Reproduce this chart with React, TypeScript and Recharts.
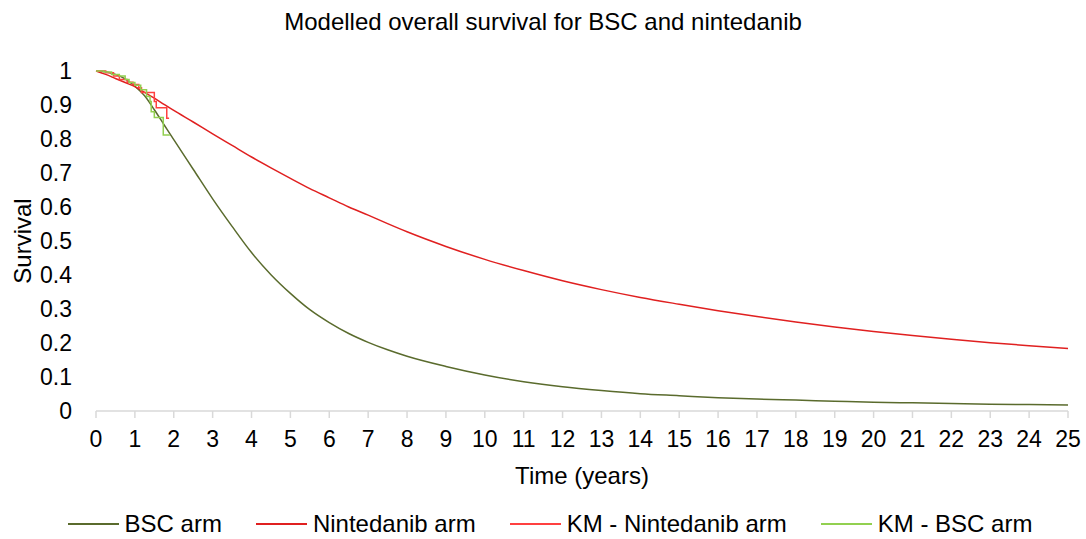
import { Label, Line, LineChart, XAxis, YAxis } from "recharts";

const FONT = "'Liberation Sans', Arial, sans-serif";

// modelled curves (years)
const modelYears = [0, 0.25, 0.5, 0.75, 1, 1.25, 1.5, 1.75, 2, 2.5, 3, 3.5, 4, 4.5, 5, 5.5, 6, 6.5, 7, 7.5, 8, 9, 10, 11, 12, 13, 14, 15, 16, 17, 18, 19, 20, 21, 22, 23, 24, 25];
const bscArm = [1, 0.998, 0.99, 0.977, 0.955, 0.927, 0.886, 0.842, 0.798, 0.711, 0.624, 0.543, 0.466, 0.401, 0.346, 0.298, 0.26, 0.228, 0.202, 0.18, 0.161, 0.131, 0.106, 0.086, 0.071, 0.06, 0.051, 0.045, 0.039, 0.035, 0.032, 0.029, 0.026, 0.024, 0.022, 0.02, 0.019, 0.018];
const nintedanibArm = [1, 0.99, 0.978, 0.966, 0.954, 0.937, 0.92, 0.902, 0.884, 0.85, 0.815, 0.781, 0.747, 0.715, 0.684, 0.654, 0.627, 0.6, 0.576, 0.551, 0.527, 0.484, 0.446, 0.413, 0.383, 0.357, 0.334, 0.314, 0.295, 0.278, 0.262, 0.247, 0.234, 0.222, 0.211, 0.201, 0.192, 0.184];

// Kaplan-Meier steps
const kmNinTime = [0, 0.25, 0.45, 0.6, 0.8, 0.95, 1.1, 1.17, 1.5, 1.55, 1.82, 1.88];
const kmNinSurv = [1, 0.995, 0.985, 0.975, 0.967, 0.96, 0.951, 0.937, 0.91, 0.892, 0.861, 0.861];
const kmBscTime = [0, 0.2, 0.4, 0.6, 0.75, 0.85, 1.0, 1.15, 1.3, 1.39, 1.42, 1.5, 1.73, 1.9];
const kmBscSurv = [1, 0.997, 0.99, 0.985, 0.975, 0.966, 0.958, 0.945, 0.925, 0.91, 0.88, 0.863, 0.812, 0.812];

const xTicks = Array.from({ length: 26 }, (_, i) => i);
const yTicks = [0, 0.1, 0.2, 0.3, 0.4, 0.5, 0.6, 0.7, 0.8, 0.9, 1];

const legendItems = [
  { name: "BSC arm", color: "#5a6b2d" },
  { name: "Nintedanib arm", color: "#e02020" },
  { name: "KM - Nintedanib arm", color: "#ff4040" },
  { name: "KM - BSC arm", color: "#92d050" },
];

export default function App() {
  const bsc = modelYears.map((t, i) => ({ t, s: bscArm[i] }));
  const nin = modelYears.map((t, i) => ({ t, s: nintedanibArm[i] }));
  const kmNin = kmNinTime.map((t, i) => ({ t, s: kmNinSurv[i] }));
  const kmBsc = kmBscTime.map((t, i) => ({ t, s: kmBscSurv[i] }));
  const tick = { fontSize: 23, fill: "#000", fontFamily: FONT };
  const title = { fontSize: 24, fill: "#000", fontFamily: FONT };

  return <div style={{ position: "absolute", left: 0, top: 0, width: 1086, height: 539, background: "#fff", fontFamily: FONT }}>
    <div style={{ position: "absolute", top: 10, left: 0, width: 1086, textAlign: "center", fontSize: 24, lineHeight: "24px", color: "#000" }}>Modelled overall survival for BSC and nintedanib</div>
    <LineChart width={1086} height={539} margin={{ top: 71, right: 18, bottom: 53, left: 16 }}>
      <XAxis type="number" dataKey="t" domain={[0, 25]} ticks={xTicks} interval={0} height={75} stroke="#d9d9d9" strokeWidth={1.5}
        tickSize={7} tickMargin={13} tick={tick} allowDuplicatedCategory={false}>
        <Label value="Time (years)" position="insideBottom" offset={2} style={title} />
      </XAxis>
      <YAxis type="number" domain={[0, 1]} ticks={yTicks} width={80} axisLine={false} tickLine={false} tickSize={6} tickMargin={18} tick={tick}
        tickFormatter={(v) => String(v)}>
        <Label value="Survival" angle={-90} position="insideLeft" offset={6} style={{ ...title, textAnchor: "middle" }} />
      </YAxis>
      <Line data={bsc} dataKey="s" type="monotone" stroke="#5a6b2d" strokeWidth={1.5} dot={false} isAnimationActive={false} />
      <Line data={nin} dataKey="s" type="monotone" stroke="#e02020" strokeWidth={1.5} dot={false} isAnimationActive={false} />
      <Line data={kmNin} dataKey="s" type="stepAfter" stroke="#ff4040" strokeWidth={1.5} dot={false} isAnimationActive={false} />
      <Line data={kmBsc} dataKey="s" type="stepAfter" stroke="#92d050" strokeWidth={1.5} dot={false} isAnimationActive={false} />
    </LineChart>
    <div style={{ position: "absolute", top: 511, left: 0, width: 1086, display: "flex", justifyContent: "center", gap: 34, fontSize: 24, lineHeight: "26px", color: "#000", paddingLeft: 14, boxSizing: "border-box" }}>
      {legendItems.map((item) => <div key={item.name} style={{ display: "flex", alignItems: "center", gap: 6 }}>
        <span style={{ display: "inline-block", width: 51, height: 2, background: item.color }} />
        <span>{item.name}</span>
      </div>)}
    </div>
  </div>;
}
